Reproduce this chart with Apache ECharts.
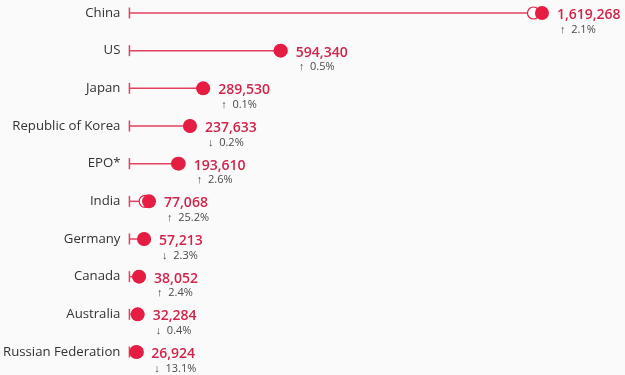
<!DOCTYPE html>
<html>
<head>
<meta charset="utf-8">
<script src="https://cdn.jsdelivr.net/npm/echarts@6/dist/echarts.min.js"></script>
<style>
  html, body { margin: 0; padding: 0; background: #fafafa; }
  #chart { width: 625px; height: 375px; }
</style>
</head>
<body>
<div id="chart"></div>
<script>
const countries = ['China', 'US', 'Japan', 'Republic of Korea', 'EPO*', 'India', 'Germany', 'Canada', 'Australia', 'Russian Federation']
const filings = [1619268, 594340, 289530, 237633, 193610, 77068, 57213, 38052, 32284, 26924]
// previous-year values (hollow markers)
const previous = [1586000, 591400, 289200, 238100, 188700, 61600, 58600, 37200, 32400, 31000]
const changes = [2.1, 0.5, 0.1, -0.2, 2.6, 25.2, -2.3, 2.4, -0.4, -13.1]
const starts = [0, 0, 0, 0, 0, 0, 0, 0, 0, 0]

const red = '#e51d43'
const textRed = '#d3234a'
const font = '"Open Sans", "Noto Sans", sans-serif'

const chart = echarts.init(document.getElementById('chart'))

chart.setOption({
  backgroundColor: '#fafafa',
  animation: false,
  grid: { left: 129, right: 37, top: 13, bottom: 23 },
  xAxis: {
    type: 'value',
    min: 0,
    max: 1800000,
    show: false,
  },
  yAxis: {
    type: 'category',
    data: countries,
    inverse: true,
    boundaryGap: false,
    axisLine: { show: false },
    axisTick: { show: false },
    axisLabel: {
      color: '#333333',
      fontFamily: font,
      fontSize: 13.2,
      margin: 9,
    },
  },
  series: [
    {
      type: 'bar',
      data: filings,
      barWidth: 1.5,
      itemStyle: { color: '#e4405f' },
      silent: true,
    },
    {
      type: 'scatter',
      data: starts,
      symbol: 'rect',
      symbolSize: [1.5, 11],
      itemStyle: { color: '#e4405f', opacity: 1 },
      silent: true,
    },
    {
      type: 'scatter',
      data: previous,
      symbolSize: 12,
      itemStyle: { color: '#ffffff', borderColor: red, borderWidth: 1.2, opacity: 1 },
      z: 3,
    },
    {
      type: 'scatter',
      data: filings,
      symbolSize: 14,
      itemStyle: { color: red, opacity: 1 },
      z: 4,
      label: {
        show: true,
        position: 'right',
        distance: 8,
        offset: [0, 9],
        align: 'left',
        formatter: (p) => {
          const c = changes[p.dataIndex]
          const arrow = c >= 0 ? '↑' : '↓'
          return '{v|' + p.value.toLocaleString('en-US') + '}\n{c|' + arrow + '  ' + Math.abs(c).toFixed(1) + '%}'
        },
        rich: {
          v: { color: textRed, fontFamily: font, fontSize: 14, fontWeight: 600, lineHeight: 15 },
          c: { color: '#4a4a4a', fontFamily: font, fontSize: 11, lineHeight: 14, padding: [0, 0, 0, 3] },
        },
      },
    },
  ],
})
</script>
</body>
</html>
